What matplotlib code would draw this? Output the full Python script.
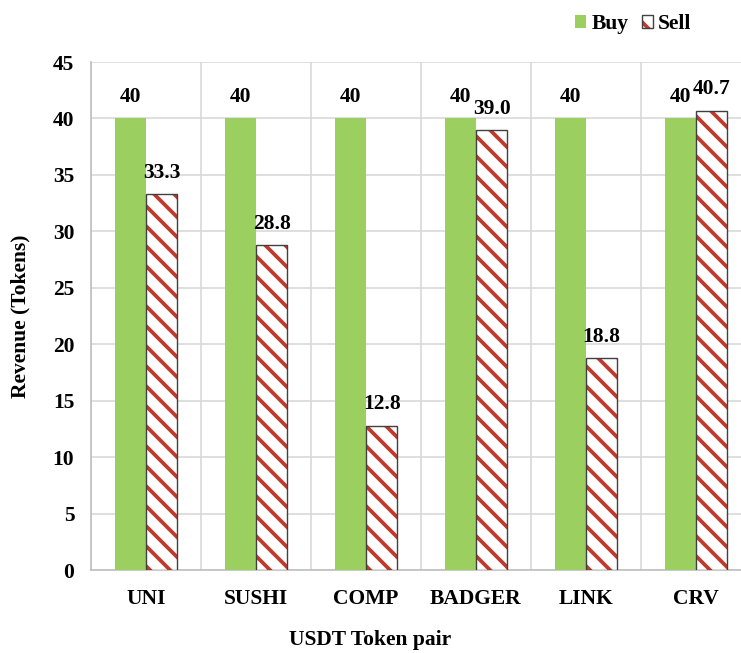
import numpy as np
import matplotlib
matplotlib.use("Agg")
import matplotlib.pyplot as plt
from matplotlib.patches import Patch
from matplotlib.legend_handler import HandlerTuple

# rendered at 120 dpi so the hatch stripes get the reference spacing;
# S converts "100 dpi points" into real points
DPI = 120
S = 100 / DPI

plt.rcParams["font.family"] = ["Liberation Serif", "DejaVu Serif"]
plt.rcParams["font.weight"] = "bold"
plt.rcParams["hatch.linewidth"] = 2.7 * S

# data
pairs = ["UNI", "SUSHI", "COMP", "BADGER", "LINK", "CRV"]
buy = [40, 40, 40, 40, 40, 40]
sell = [33.3, 28.8, 12.8, 39.0, 18.8, 40.7]

green = "#9BCF5F"
red = "#C0392B"
grid_col = "#D9D9D9"
fs = 15.5 * S

fig = plt.figure(figsize=(741 / DPI, 653 / DPI), dpi=DPI)
# axes runs past the right edge of the picture, like the reference crop
ax = fig.add_axes([91 / 741, 83 / 653, 660 / 741, 508 / 653])

x = np.arange(len(pairs))
w = 0.285
b1 = ax.bar(x - w / 2, buy, w, color=green, zorder=3)
b2 = ax.bar(x + w / 2, sell, w, facecolor="white", edgecolor=red,
            hatch="\\\\", linewidth=0, zorder=3)
# dark outline around the hatched bars
ax.bar(x + w / 2, sell, w, facecolor="none", edgecolor="#404040",
       linewidth=1.0 * S, zorder=4)

ax.bar_label(b1, labels=["%d" % v for v in buy], padding=8 * S,
             fontsize=fs, fontweight="bold")
ax.bar_label(b2, labels=["%.1f" % v for v in sell], padding=8 * S,
             fontsize=fs, fontweight="bold")

ax.set_ylim(0, 45)
ax.set_yticks(np.arange(0, 46, 5))
ax.set_xlim(-0.5, len(pairs) - 0.5)
ax.set_xticks(x)
ax.set_xticklabels(pairs)
ax.set_xticks(np.arange(-0.5, len(pairs), 1), minor=True)

ax.grid(axis="y", color=grid_col, linewidth=1.2 * S, zorder=0)
ax.grid(axis="x", which="minor", color=grid_col, linewidth=1.2 * S, zorder=0)
ax.tick_params(axis="both", which="both", length=0, labelsize=fs)
ax.tick_params(axis="x", pad=14 * S)
ax.tick_params(axis="y", pad=12 * S)
for s in ["top", "right"]:
    ax.spines[s].set_visible(False)
for s in ["left", "bottom"]:
    ax.spines[s].set_color("#BFBFBF")
    ax.spines[s].set_linewidth(1.2 * S)

ax.set_ylabel("Revenue (Tokens)", fontsize=fs, fontweight="bold")
ax.yaxis.set_label_coords(-61 / 660, 0.5)
ax.set_xlabel("USDT Token pair", fontsize=fs, fontweight="bold")
ax.xaxis.set_label_coords((370 - 91) / 660, -60 / 508)

buy_h = Patch(facecolor=green, linewidth=0)
sell_h = (Patch(facecolor="white", edgecolor=red, hatch="\\\\", linewidth=0),
          Patch(facecolor="none", edgecolor="#404040", linewidth=1.0 * S))
fig.legend(handles=[buy_h, sell_h], labels=["Buy", "Sell"],
           handler_map={tuple: HandlerTuple(ndivide=1, pad=0)},
           loc="upper right", bbox_to_anchor=(711 / 741, 1.008),
           ncol=2, frameon=False, fontsize=fs, handlelength=0.52,
           handleheight=0.52, handletextpad=0.25, columnspacing=0.6)

fig.savefig("out.png", dpi=DPI)
